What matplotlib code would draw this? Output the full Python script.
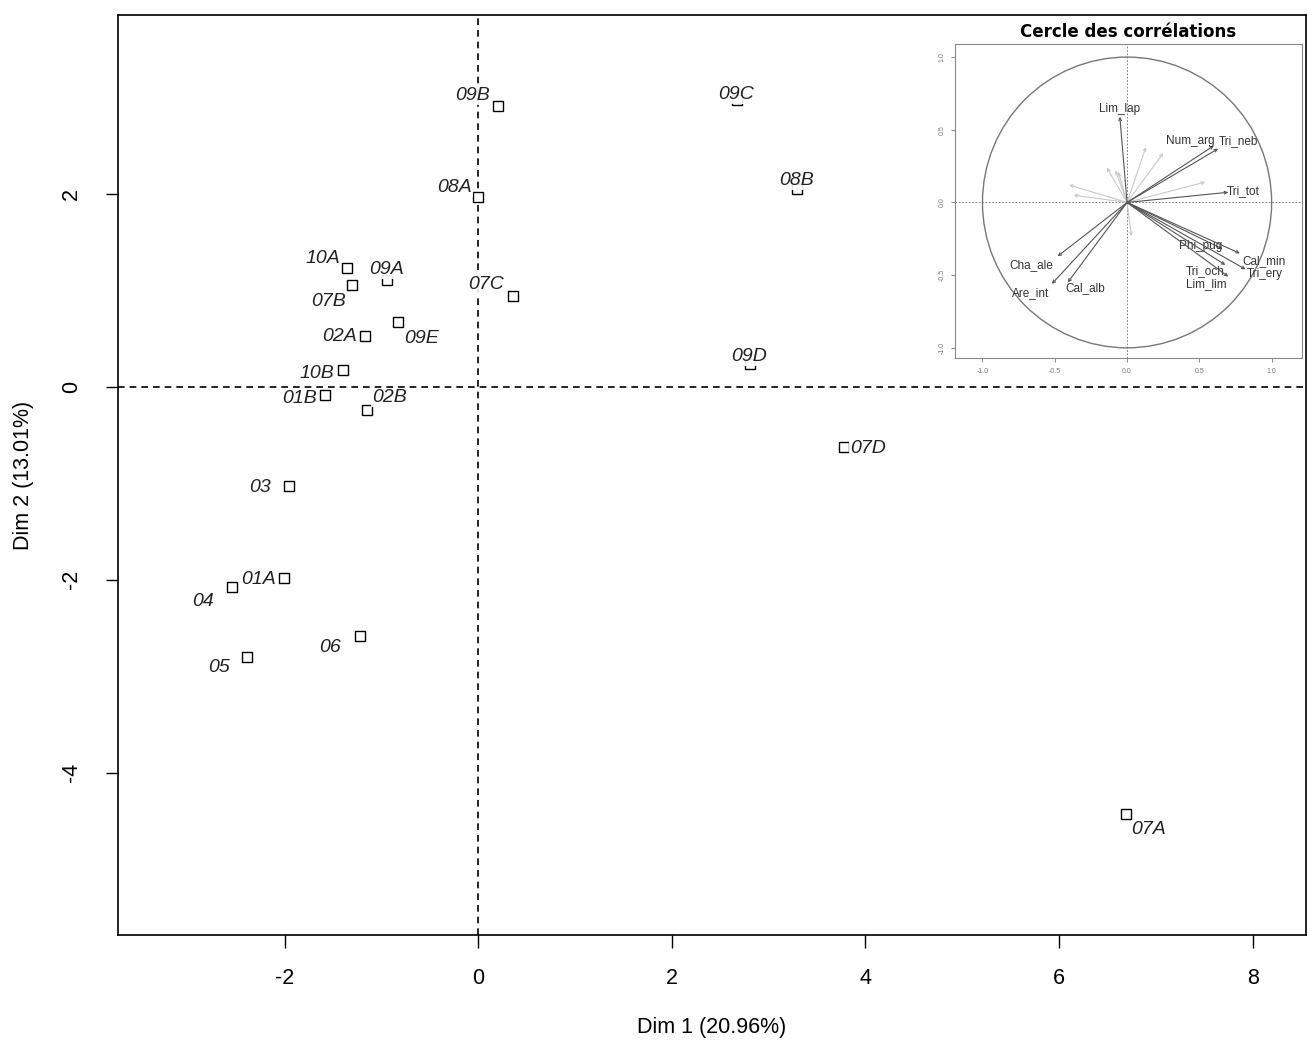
import numpy as np
import matplotlib.pyplot as plt
from matplotlib.patches import Circle

plt.rcParams['font.family'] = ['Liberation Sans', 'DejaVu Sans']
plt.rcParams['axes.unicode_minus'] = False

# individuals (PCA scores on Dim 1 / Dim 2)
names = ['09B', '09C', '08A', '08B', '10A', '09A', '07B', '07C', '02A', '09E', '10B',
         '09D', '01B', '02B', '07D', '03', '01A', '04', '06', '05', '07A']
dim1 = [0.20, 2.67, 0.00, 3.29, -1.35, -0.94, -1.30, 0.36, -1.17, -0.83, -1.40,
        2.81, -1.58, -1.15, 3.78, -1.95, -2.01, -2.54, -1.22, -2.39, 6.69]
dim2 = [2.91, 2.97, 1.96, 2.05, 1.23, 1.10, 1.05, 0.94, 0.53, 0.67, 0.17,
        0.23, -0.09, -0.24, -0.62, -1.03, -1.98, -2.08, -2.58, -2.80, -4.43]

# variables (correlation circle)
var_names = ['Lim_lap', 'Num_arg', 'Tri_neb', 'Tri_tot', 'Phi_pug', 'Cal_min', 'Tri_ery',
             'Tri_och', 'Lim_lim', 'Cha_ale', 'Are_int', 'Cal_alb']
var_d1 = [-0.05, 0.60, 0.63, 0.70, 0.66, 0.78, 0.82, 0.68, 0.70, -0.48, -0.52, -0.41]
var_d2 = [0.59, 0.39, 0.37, 0.07, -0.32, -0.35, -0.46, -0.43, -0.51, -0.37, -0.56, -0.55]
# weakly represented variables (drawn in light grey, no label)
weak_d1 = [0.13, 0.25, 0.54, -0.14, -0.08, -0.06, -0.40, -0.37, 0.03]
weak_d2 = [0.38, 0.34, 0.14, 0.24, 0.22, 0.21, 0.12, 0.05, -0.23]

# label offsets in pixels (x right, y up)
label_off = {'09B': (-25, 10), '09C': (-1, 5), '08A': (-24, 10), '08B': (0, 8),
             '10A': (-25, 9), '09A': (-1, 11), '07B': (-24, -16), '07C': (-27, 11),
             '02A': (-25, -1), '09E': (24, -17), '10B': (-26, -3), '09D': (-1, 8),
             '01B': (-26, -3), '02B': (23, 12), '07D': (24, -2), '03': (-29, -1),
             '01A': (-25, -2), '04': (-29, -14), '06': (-30, -12), '05': (-28, -11),
             '07A': (23, -15)}
var_label_pos = {'Lim_lap': (-0.05, 0.64), 'Num_arg': (0.44, 0.42), 'Tri_neb': (0.77, 0.42),
                 'Tri_tot': (0.80, 0.08), 'Phi_pug': (0.51, -0.30), 'Cal_min': (0.95, -0.40),
                 'Tri_ery': (0.95, -0.49), 'Tri_och': (0.54, -0.47), 'Lim_lim': (0.55, -0.56),
                 'Cha_ale': (-0.66, -0.43), 'Are_int': (-0.67, -0.62), 'Cal_alb': (-0.29, -0.59)}

fig = plt.figure(figsize=(13.08, 10.43), dpi=100)
ax = fig.add_axes([118 / 1308, 1 - 935 / 1043, 1188 / 1308, 920 / 1043])

ax.axhline(0, color='black', lw=1.2, ls=(0, (4, 3)), zorder=1)
ax.axvline(0, color='black', lw=1.2, ls=(0, (4, 3)), zorder=1)
ax.plot(dim1, dim2, ls='none', marker='s', ms=7, mfc='white', mec='black', mew=1.0, zorder=2)

for n, x, y in zip(names, dim1, dim2):
    dx, dy = label_off[n]
    ax.annotate(n, (x, y), xytext=(dx * 0.72, dy * 0.72), textcoords='offset points',
                ha='center', va='center', fontsize=14, style='italic', color='#222222',
                bbox=dict(boxstyle='square,pad=0.05', fc='white', ec='none', alpha=0.9),
                zorder=3)

ax.set_xlim(-3.72, 8.55)
ax.set_ylim(-5.68, 3.85)
ax.set_xticks([-2, 0, 2, 4, 6, 8])
ax.set_yticks([-4, -2, 0, 2])
ax.tick_params(direction='out', length=9, width=1, labelsize=15.5, pad=15)
ax.tick_params(axis='y', pad=17)
for lab in ax.get_yticklabels():
    lab.set_rotation(90)
    lab.set_va('center')
for s in ax.spines.values():
    s.set_linewidth(1.2)
ax.set_xlabel('Dim 1 (20.96%)', fontsize=15.5, labelpad=20)
ax.set_ylabel('Dim 2 (13.01%)', fontsize=15.5, labelpad=19)

# inset: correlation circle
ins = fig.add_axes([955 / 1308, 1 - 358 / 1043, 347 / 1308, 314 / 1043])
ins.set_xlim(-1.19, 1.21)
ins.set_ylim(-1.07, 1.09)
ins.add_patch(Circle((0, 0), 1, fill=False, ec='#777777', lw=1.0))
ins.axhline(0, color='#666666', lw=0.6, ls=(0, (2, 2)))
ins.axvline(0, color='#666666', lw=0.6, ls=(0, (2, 2)))
for x, y in zip(weak_d1, weak_d2):
    ins.annotate('', (x, y), xytext=(0, 0),
                 arrowprops=dict(arrowstyle='->', color='#c8c8c8', lw=0.8, mutation_scale=5,
                                 shrinkA=0, shrinkB=0))
for n, x, y in zip(var_names, var_d1, var_d2):
    ins.annotate('', (x, y), xytext=(0, 0),
                 arrowprops=dict(arrowstyle='->', color='#555555', lw=0.8, mutation_scale=5,
                                 shrinkA=0, shrinkB=0))
    lx, ly = var_label_pos[n]
    ins.text(lx, ly, n, ha='center', va='center', fontsize=8.5, color='#333333')
ins.set_xticks([-1, -0.5, 0, 0.5, 1])
ins.set_yticks([-1, -0.5, 0, 0.5, 1])
ins.set_xticklabels(['-1.0', '-0.5', '0.0', '0.5', '1.0'])
ins.set_yticklabels(['-1.0', '-0.5', '0.0', '0.5', '1.0'])
ins.tick_params(length=3, width=0.6, labelsize=5, colors='#777777', pad=4)
for lab in ins.get_yticklabels():
    lab.set_rotation(90)
    lab.set_va('center')
for s in ins.spines.values():
    s.set_color('#888888')
    s.set_linewidth(0.8)
ins.set_title('Cercle des corrélations', fontsize=12, fontweight='bold',
              family='DejaVu Sans', pad=5)

fig.savefig('out.png', dpi=100)
